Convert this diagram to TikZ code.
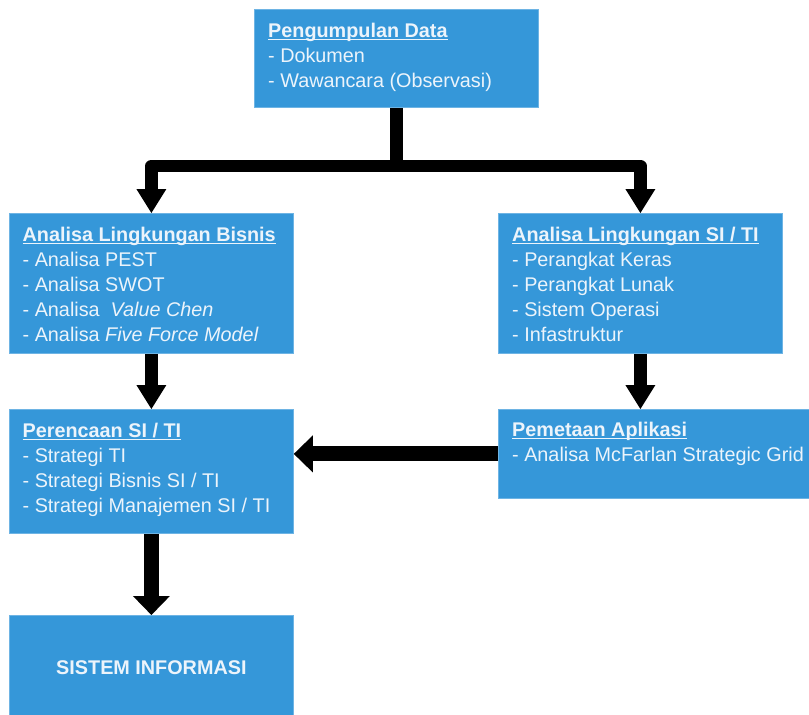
\documentclass[tikz,border=0pt]{standalone}
\usepackage{fontspec}
\setmainfont{Liberation Sans}
\usetikzlibrary{arrows.meta}
\definecolor{boxblue}{RGB}{53,151,217}
\definecolor{boxedge}{RGB}{110,180,228}
\definecolor{txtcol}{RGB}{236,244,251}
\newsavebox\hdrbox
\newcommand\hdr[1]{\sbox\hdrbox{\bfseries #1}\rlap{\rule[-3.3pt]{\wd\hdrbox}{1.5pt}}\usebox\hdrbox}
\begin{document}
\begin{tikzpicture}[x=1pt,y=-1pt,
  box/.style={draw=boxedge,line width=0.8pt,fill=boxblue,inner sep=0pt,anchor=north west},
  txt/.style={text=txtcol,align=left,inner sep=0pt,anchor=base west,
    font=\fontsize{19.8}{25}\selectfont},
  arr/.style={draw=black,line width=12.5pt,line join=round,
    -{Triangle[width=30pt,length=24pt,line width=0pt]}},
  bigarr/.style={draw=black,line width=15pt,
    -{Triangle[width=37pt,length=19pt,line width=0pt]}},
  conn/.style={draw=black,line width=12.5pt,line join=round}]
\useasboundingbox (0,0) rectangle (809,715);
\clip (0,0) rectangle (809,715);
\fill[white] (0,0) rectangle (809,715);

% boxes
\node[box,minimum width=284pt,minimum height=98pt] (top) at (254,9) {};
\node[box,minimum width=284pt,minimum height=140pt] (bis) at (9,213) {};
\node[box,minimum width=284pt,minimum height=140pt] (siti) at (498,213) {};
\node[box,minimum width=284pt,minimum height=124pt] (ren) at (9,409) {};
\node[box,minimum width=322pt,minimum height=89pt] (pem) at (498,409) {};
\node[box,minimum width=284pt,minimum height=110pt] (sis) at (9,615) {};

% texts (anchored at the baseline of their last line)
\node[txt] (topT) at (268,87) {\hdr{Pengumpulan Data}\\- Dokumen\\- Wawancara (Observasi)};
\node[txt] (bisT) at (22.5,341) {\hdr{Analisa Lingkungan Bisnis}\\- Analisa PEST\\- Analisa SWOT\\- Analisa \ \textit{Value Chen}\\- Analisa \textit{Five Force Model}};
\node[txt] (sitiT) at (512,341) {\hdr{Analisa Lingkungan SI / TI}\\- Perangkat Keras\\- Perangkat Lunak\\- Sistem Operasi\\- Infastruktur};
\node[txt] (renT) at (22.5,512) {\hdr{Perencaan SI / TI}\\- Strategi TI\\- Strategi Bisnis SI / TI\\- Strategi Manajemen SI / TI};
\node[txt] (pemT) at (512,461) {\hdr{Pemetaan Aplikasi}\\- Analisa McFarlan Strategic Grid};
\node[text=txtcol,font=\fontsize{19.8}{25}\selectfont\bfseries,inner sep=0pt] (sisT) at (sis.center |- 0,668) {SISTEM INFORMASI};

% connectors
\coordinate (split) at (top.south |- 0,166);
\draw[conn] (top.south) -- (split);
\draw[arr] (split) -| (bis.north);
\draw[arr] (split) -| (siti.north);
\draw[arr] (bis.south) -- (ren.north);
\draw[arr] (siti.south) -- (siti.south |- pem.north);
\draw[bigarr] (pem.west) -- (ren.east |- pem.west);
\draw[bigarr] (ren.south) -- (sis.north);
\end{tikzpicture}
\end{document}
